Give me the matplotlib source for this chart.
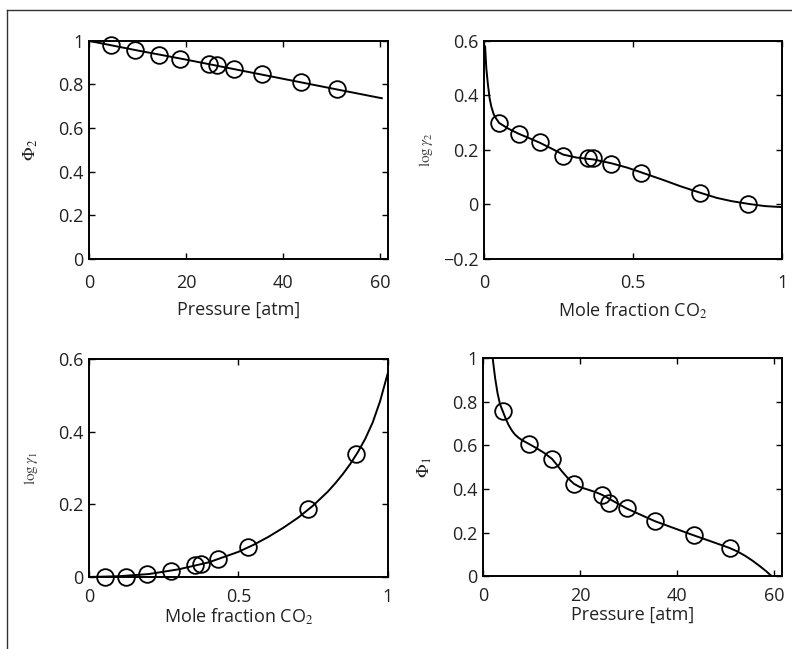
import numpy as np
import matplotlib.pyplot as plt
from matplotlib.lines import Line2D

plt.rcParams['font.family'] = ['Open Sans', 'DejaVu Sans']
plt.rcParams['mathtext.fontset'] = 'stix'

# measured points (pressure series, shared by the two fugacity panels)
p_phi2 = [4.5, 9.5, 14.5, 18.8, 24.7, 26.3, 29.9, 35.7, 43.6, 51.0]
phi2 = [0.983, 0.957, 0.936, 0.917, 0.895, 0.889, 0.870, 0.846, 0.812, 0.780]
p_phi2_fit = [0, 10, 20, 30, 40, 50, 60.3]
phi2_fit = [1.0, 0.956, 0.914, 0.870, 0.826, 0.782, 0.737]

x_g2 = [0.051, 0.117, 0.188, 0.265, 0.348, 0.367, 0.427, 0.526, 0.724, 0.886]
g2 = [0.299, 0.259, 0.228, 0.179, 0.169, 0.169, 0.150, 0.117, 0.042, 0.001]
x_g2_fit = [0.004, 0.008, 0.013, 0.019, 0.025, 0.033, 0.041, 0.051, 0.08, 0.117,
            0.15, 0.188, 0.23, 0.265, 0.31, 0.367, 0.427, 0.48, 0.526, 0.6,
            0.66, 0.724, 0.78, 0.83, 0.886, 0.94, 1.0]
g2_fit = [0.579, 0.50, 0.444, 0.39, 0.358, 0.33, 0.315, 0.299, 0.279, 0.259,
          0.244, 0.226, 0.203, 0.183, 0.172, 0.165, 0.151, 0.135, 0.118, 0.090,
          0.066, 0.043, 0.024, 0.012, 0.002, -0.006, -0.010]

x_g1 = [0.055, 0.123, 0.194, 0.274, 0.355, 0.374, 0.433, 0.534, 0.735, 0.894]
g1 = [0.0, 0.001, 0.009, 0.017, 0.033, 0.036, 0.049, 0.083, 0.186, 0.337]
x_g1_fit = [0.0, 0.1, 0.2, 0.3, 0.4, 0.5, 0.55, 0.6, 0.65, 0.7, 0.75, 0.8, 0.825,
            0.85, 0.875, 0.9, 0.925, 0.95, 0.975, 1.0]
g1_fit = [0.0, 0.002, 0.008, 0.021, 0.040, 0.069, 0.088, 0.110, 0.135, 0.163,
          0.196, 0.235, 0.258, 0.283, 0.311, 0.343, 0.380, 0.425, 0.484, 0.559]

p_phi1 = [4.1, 9.4, 14.2, 18.75, 24.6, 26.0, 29.6, 35.4, 43.4, 50.8]
phi1 = [0.756, 0.608, 0.539, 0.423, 0.373, 0.337, 0.311, 0.253, 0.188, 0.130]
p_phi1_fit = [2.0, 2.5, 3.0, 3.5, 4.1, 4.7, 5.3, 6.0, 6.6, 7.3, 8.0, 9.4, 11.0,
              12.6, 14.2, 15.2, 16.2, 17.5, 18.75, 20.0, 21.7, 23.2, 24.6, 27.0,
              29.6, 32.5, 35.4, 40.2, 43.4, 47.0, 50.8, 52.5, 54.0, 55.5, 57.0,
              58.3, 59.5]
phi1_fit = [1.0, 0.91, 0.84, 0.79, 0.756, 0.722, 0.693, 0.667, 0.650, 0.636,
            0.625, 0.608, 0.588, 0.566, 0.539, 0.512, 0.483, 0.450, 0.424, 0.409,
            0.397, 0.386, 0.373, 0.343, 0.311, 0.282, 0.253, 0.214, 0.188, 0.160,
            0.130, 0.113, 0.094, 0.072, 0.047, 0.024, 0.0]

fig = plt.figure(figsize=(7.92, 6.49), dpi=100)

# outer frame: only top and left edges visible
fig.add_artist(Line2D([7 / 792, 7 / 792], [0, 1 - 10 / 649], transform=fig.transFigure,
                      color='#333333', linewidth=1.0))
fig.add_artist(Line2D([7 / 792, 1], [1 - 10 / 649, 1 - 10 / 649], transform=fig.transFigure,
                      color='#333333', linewidth=1.0))

w = 0.377
h = 0.336
panels = [
    ([0.1124, 0.601, w, h], p_phi2, phi2, p_phi2_fit, phi2_fit,
     (0, 61.5), (0, 1), [0, 20, 40, 60], [0, 0.2, 0.4, 0.6, 0.8, 1],
     'Pressure [atm]', r'$\Phi_2$', -0.19, 11),
    ([0.611, 0.601, w, h], x_g2, g2, x_g2_fit, g2_fit,
     (0, 1), (-0.2, 0.6), [0, 0.5, 1], [-0.2, 0, 0.2, 0.4, 0.6],
     'Mole fraction CO$_2$', r'$\log\gamma_2$', -0.19, 11),
    ([0.1124, 0.111, w, h], x_g1, g1, x_g1_fit, g1_fit,
     (0, 1), (0, 0.6), [0, 0.5, 1], [0, 0.2, 0.4, 0.6],
     'Mole fraction CO$_2$', r'$\log\gamma_1$', -0.135, 8),
    ([0.6098, 0.112, w, h], p_phi1, phi1, p_phi1_fit, phi1_fit,
     (0, 61.5), (0, 1), [0, 20, 40, 60], [0, 0.2, 0.4, 0.6, 0.8, 1],
     'Pressure [atm]', r'$\Phi_1$', -0.135, 8),
]

def fmt(v):
    s = ('%g' % v)
    return s.replace('-', '\u2212')

for rect, xs, ys, xf, yf, xl, yl, xt, yt, xlab, ylab, xlab_y, xpad in panels:
    ax = fig.add_axes(rect)
    ax.plot(xf, yf, color='black', linewidth=1.4)
    ax.plot(xs, ys, linestyle='none', marker='o', markersize=12,
            markerfacecolor='none', markeredgecolor='black', markeredgewidth=1.3,
            clip_on=False)
    ax.set_xlim(*xl)
    ax.set_ylim(*yl)
    ax.set_xticks(xt)
    ax.set_xticklabels([fmt(v) for v in xt])
    ax.set_yticks(yt)
    ax.set_yticklabels([fmt(v) for v in yt])
    ax.tick_params(direction='in', top=True, right=True, length=4, width=1,
                   labelsize=13, labelcolor='#222222')
    ax.tick_params(axis='x', pad=xpad)
    ax.tick_params(axis='y', pad=4)
    for sp in ax.spines.values():
        sp.set_linewidth(1.4)
    ax.set_xlabel(xlab, fontsize=13, color='#222222')
    ax.xaxis.set_label_coords(0.5, xlab_y)
    if 'log' in ylab:
        ax.set_ylabel(ylab, fontsize=11, color='#444444')
    else:
        ax.set_ylabel(ylab, fontsize=13, color='#222222')
    ax.yaxis.set_label_coords(-0.165, 0.5)

fig.savefig('out.png', dpi=100)
